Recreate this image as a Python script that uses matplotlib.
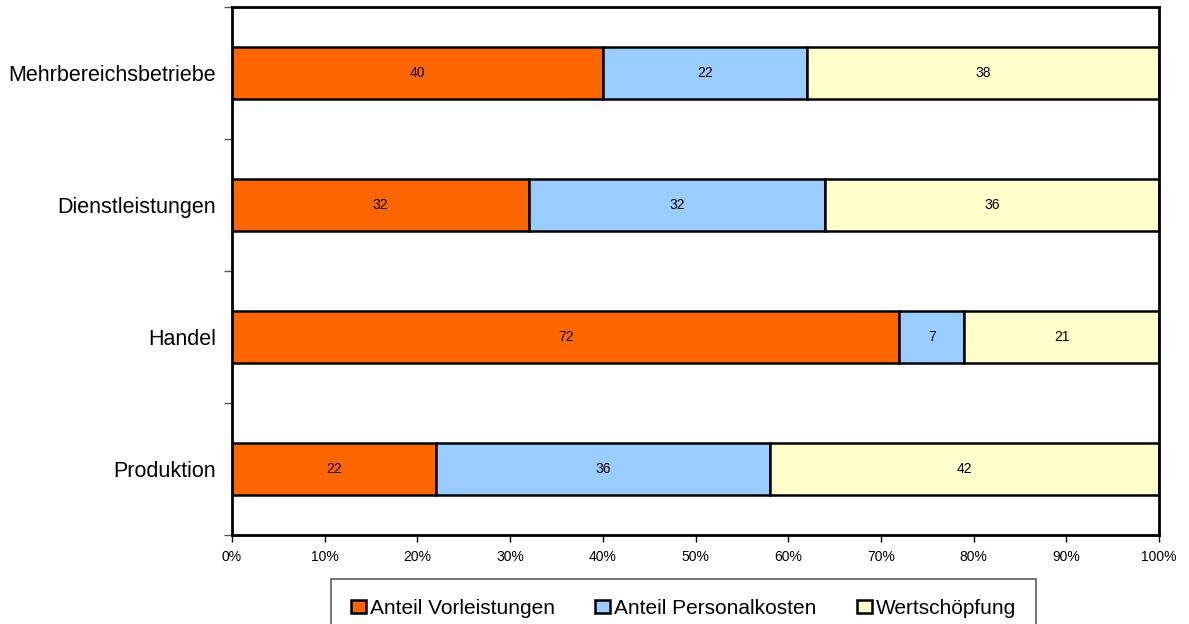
import matplotlib
matplotlib.use("Agg")
import matplotlib.pyplot as plt
from matplotlib import font_manager
from matplotlib.ticker import MultipleLocator, PercentFormatter
from matplotlib.patches import Patch

# Branches (bottom to top) and cost-structure shares in percent
categories = ["Produktion", "Handel", "Dienstleistungen", "Mehrbereichsbetriebe"]
vorleistungen = [22, 72, 32, 40]
personalkosten = [36, 7, 32, 22]
wertschoepfung = [42, 21, 36, 38]

series_names = ["Anteil Vorleistungen", "Anteil Personalkosten", "Wertschöpfung"]
colors = ["#FF6600", "#99CCFF", "#FFFFCC"]

available = {f.name for f in font_manager.fontManager.ttflist}
base_font = "Liberation Sans" if "Liberation Sans" in available else "DejaVu Sans"
plt.rcParams["font.family"] = [base_font, "DejaVu Sans"]

fig = plt.figure(figsize=(11.89, 6.24), dpi=100)
ax = fig.add_axes([232 / 1189, 1 - 535 / 624, (1159 - 232) / 1189, (535 - 7) / 624])

y = list(range(len(categories)))
left = [0] * len(categories)
for name, vals, col in zip(series_names, [vorleistungen, personalkosten, wertschoepfung], colors):
    fracs = [v / 100 for v in vals]
    bars = ax.barh(y, fracs, left=[l / 100 for l in left], height=0.4, color=col,
                   edgecolor="black", linewidth=1.8, label=name)
    for b, v in zip(bars, vals):
        ax.text(b.get_x() + b.get_width() / 2, b.get_y() + b.get_height() / 2, f"{v}",
                ha="center", va="center", fontsize=10, color="black")
    left = [l + v for l, v in zip(left, vals)]

ax.set_xlim(0, 1)
ax.set_ylim(-0.5, len(categories) - 0.5)
ax.xaxis.set_major_locator(MultipleLocator(0.1))
ax.xaxis.set_major_formatter(PercentFormatter(1.0, decimals=0))
ax.tick_params(axis="x", direction="out", length=5, width=1, labelsize=10, pad=6)

ax.set_yticks(y)
ax.set_yticklabels(categories, fontsize=15.5)
ax.tick_params(axis="y", which="major", length=0, pad=11.5)
ax.set_yticks([i - 0.5 for i in range(len(categories) + 1)], minor=True)
ax.tick_params(axis="y", which="minor", direction="out", length=6, width=1, color="#555555")

for s in ax.spines.values():
    s.set_linewidth(2)
    s.set_color("black")

handles = [Patch(facecolor=c, edgecolor="black", linewidth=1.8) for c in colors]
leg = fig.legend(handles, series_names, loc="upper center",
                 bbox_to_anchor=(683.5 / 1189, 1 - 579 / 624),
                 ncol=3, frameon=True, fancybox=False,
                 prop={"size": 15},
                 handlelength=0.7, handleheight=0.65, handletextpad=0.2,
                 columnspacing=1.95, borderpad=0.95, borderaxespad=0)
leg.get_frame().set_edgecolor("#333333")
leg.get_frame().set_linewidth(1.2)

fig.savefig("out.png", dpi=100)
